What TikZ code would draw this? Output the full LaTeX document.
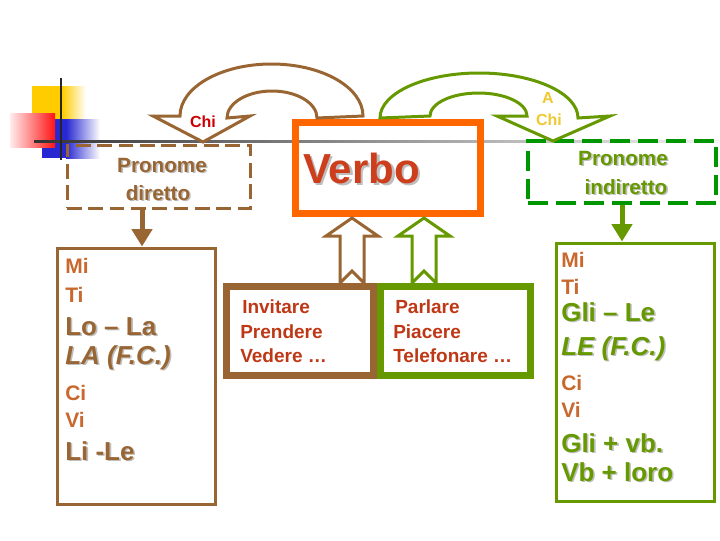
\documentclass[tikz,border=0pt]{standalone}
\usepackage{fontspec}
\setmainfont{Liberation Sans}
\usetikzlibrary{arrows.meta, positioning, calc, fit}
\definecolor{cBrown}{RGB}{153,102,51}
\definecolor{cOrange}{RGB}{255,102,0}
\definecolor{cVerbo}{RGB}{205,62,28}
\definecolor{cRust}{RGB}{190,56,22}
\definecolor{cOlive}{RGB}{102,153,0}
\definecolor{cDGreen}{RGB}{0,150,0}
\definecolor{cRed}{RGB}{204,0,0}
\definecolor{cGold}{RGB}{240,200,48}
\definecolor{cTan}{RGB}{200,104,44}
\definecolor{cShadow}{RGB}{190,190,190}
\definecolor{cYellow}{RGB}{255,204,0}
\definecolor{cPink}{RGB}{255,20,20}
\definecolor{cBlue}{RGB}{40,40,210}
\newcommand{\shd}[2][1.2pt]{\makebox[0pt][l]{\hspace{#1}\raisebox{-#1}{\textcolor{cShadow}{#2}}}#2}
\tikzset{
	dirbox/.style  ={draw=cBrown, line width=2.25pt, dash pattern=on 11pt off 5pt, inner sep=0pt},
	indbox/.style  ={draw=cDGreen, line width=3pt, dash pattern=on 15pt off 6pt, inner sep=0pt},
	verbobox/.style={draw=cOrange, line width=5.25pt, inner sep=0pt},
	listbox/.style ={draw=#1, line width=2.25pt, inner sep=0pt},
	verbgrp/.style ={draw=#1, line width=5.25pt, inner sep=0pt},
	downarr/.style ={draw=#1, line width=3.75pt, -{Triangle[length=13pt, width=15pt]}},
	hollow/.style  ={fill=white, draw=#1, line width=2.25pt, line join=miter},
	% texts
	txt/.style     ={anchor=base west, inner sep=0pt},
	itemsm/.style  ={txt, font=\fontsize{15.75}{18}\selectfont\bfseries},
	itembg/.style  ={txt, font=\fontsize{19.5}{22}\selectfont\bfseries},
	itemvb/.style  ={txt, text=cRust, font=\fontsize{14.25}{17}\selectfont\bfseries},
	prontxt/.style ={anchor=base, inner sep=0pt, font=\fontsize{15.5}{18}\selectfont\bfseries},
	chitxt/.style  ={anchor=base, inner sep=0pt, font=\fontsize{12}{14}\selectfont\bfseries},
}
\begin{document}
\begin{tikzpicture}[x=0.75pt, y=-0.75pt]
\useasboundingbox (0,0) rectangle (720,540);
% template squares and lines
\fill[cYellow] (32,86) rectangle (62,119);
\shade[left color=cYellow, right color=white] (62,86) rectangle (86,119);
\fill[cBlue] (42,119) rectangle (66,158);
\shade[left color=cBlue, right color=white] (66,119) rectangle (100,158);
\shade[left color=cPink!8, right color=cPink] (10,113) rectangle (55,147);
\shade[left color=black!80, right color=black!4] (34,140) rectangle (720,142);
\draw[black!85, line width=1.5pt] (61,78) -- (61,160);

% boxes
\node[dirbox, fit={(67,145) (250,208)}] (pdir) {};
\node[indbox, fit={(528,141) (716,203)}] (pind) {};
\node[verbobox, fit={(295.5,122.5) (480.5,213.5)}] (verbo) {};
\node[listbox=cBrown, fit={(57,248) (215,504)}] (llist) {};
\node[listbox=cOlive, fit={(556,243) (714,501)}] (rlist) {};

% hollow arrows up to the verb
\foreach \cx/\col in {352/cBrown, 424/cOlive}
	\filldraw[hollow=\col] (\cx-12,283) -- (\cx-12,236) -- (\cx-26,236) -- (\cx,218) -- (\cx+26,236) -- (\cx+12,236) -- (\cx+12,283) -- (\cx,271) -- cycle;
\node[verbgrp=cBrown, fit={(226.5,286.5) (373.5,375.5)}] (vgrp1) {};
\node[verbgrp=cOlive, fit={(380,286.5) (530,375.5)}] (vgrp2) {};

% curved arrows from the verb
\filldraw[hollow=cBrown] (317,118) arc[start angle=0, end angle=-180, x radius=45, y radius=27]
	-- (250,116) -- (203,142) -- (153,116) -- (180,116)
	arc[start angle=180, end angle=360, x radius=91.5, y radius=52] -- cycle;
\filldraw[hollow=cOlive] (380,118) arc[start angle=180, end angle=360, x radius=99, y radius=45]
	-- (610,116) -- (553,141) -- (497,116) -- (527,116)
	arc[start angle=0, end angle=-180, x radius=48.5, y radius=23] -- cycle;

% straight arrows down to the lists
\coordinate (pdout) at ($(pdir.south)+(-16.5,0)$);
\draw[downarr=cBrown] (pdout) -- (pdout |- llist.north);
\draw[downarr=cOlive] (pind.south) -- (pind.south |- rlist.north);

% labels
\node[chitxt, text=cRed] (chi) at (203,127) {Chi};
\node[chitxt, text=cGold] (achiA) at (548,103) {A};
\node[chitxt, text=cGold] (achiB) at (549,125) {Chi};
\node[prontxt, text=cBrown] (pdirA) at (162,172) {\shd{Pronome}};
\node[prontxt, text=cBrown] (pdirB) at (158,200) {\shd{diretto}};
\node[prontxt, text=cOlive] (pindA) at (623,165) {\shd{Pronome}};
\node[prontxt, text=cOlive] (pindB) at (626,194) {\shd{indiretto}};
\node[txt, text=cVerbo, font=\fontsize{31.5}{36}\selectfont\bfseries] (verbotxt) at (303,183) {\shd[2pt]{Verbo}};

% verbs
\node[itemvb] (vInv) at (242,313) {Invitare};
\node[itemvb] (vPre) at (240,338) {Prendere};
\node[itemvb] (vVed) at (240,362) {Vedere …};
\node[itemvb] (vPar) at (395,313) {Parlare};
\node[itemvb] (vPia) at (393,338) {Piacere};
\node[itemvb] (vTel) at (393,362) {Telefonare …};

% direct pronouns
\node[itemsm, text=cTan] (lMi) at (65,273) {Mi};
\node[itemsm, text=cTan] (lTi) at (65,302) {Ti};
\node[itembg, text=cBrown] (lLo) at (65,335) {\shd{Lo – La}};
\node[itembg, text=cBrown] (lLA) at (65,364) {\shd{\itshape LA (F.C.)}};
\node[itemsm, text=cTan] (lCi) at (65,400) {Ci};
\node[itemsm, text=cTan] (lVi) at (65,427) {Vi};
\node[itembg, text=cBrown] (lLi) at (65,460) {\shd{Li -Le}};

% indirect pronouns
\node[itemsm, text=cTan] (rMi) at (561,267) {Mi};
\node[itemsm, text=cTan] (rTi) at (561,294) {Ti};
\node[itembg, text=cOlive] (rGli) at (561,321) {\shd{Gli – Le}};
\node[itembg, text=cOlive] (rLE) at (561,355) {\shd{\itshape LE (F.C.)}};
\node[itemsm, text=cTan] (rCi) at (561,390) {Ci};
\node[itemsm, text=cTan] (rVi) at (561,417) {Vi};
\node[itembg, text=cOlive] (rGvb) at (561,452) {\shd{Gli + vb.}};
\node[itembg, text=cOlive] (rVb) at (561,481) {\shd{Vb + loro}};
\end{tikzpicture}
\end{document}
